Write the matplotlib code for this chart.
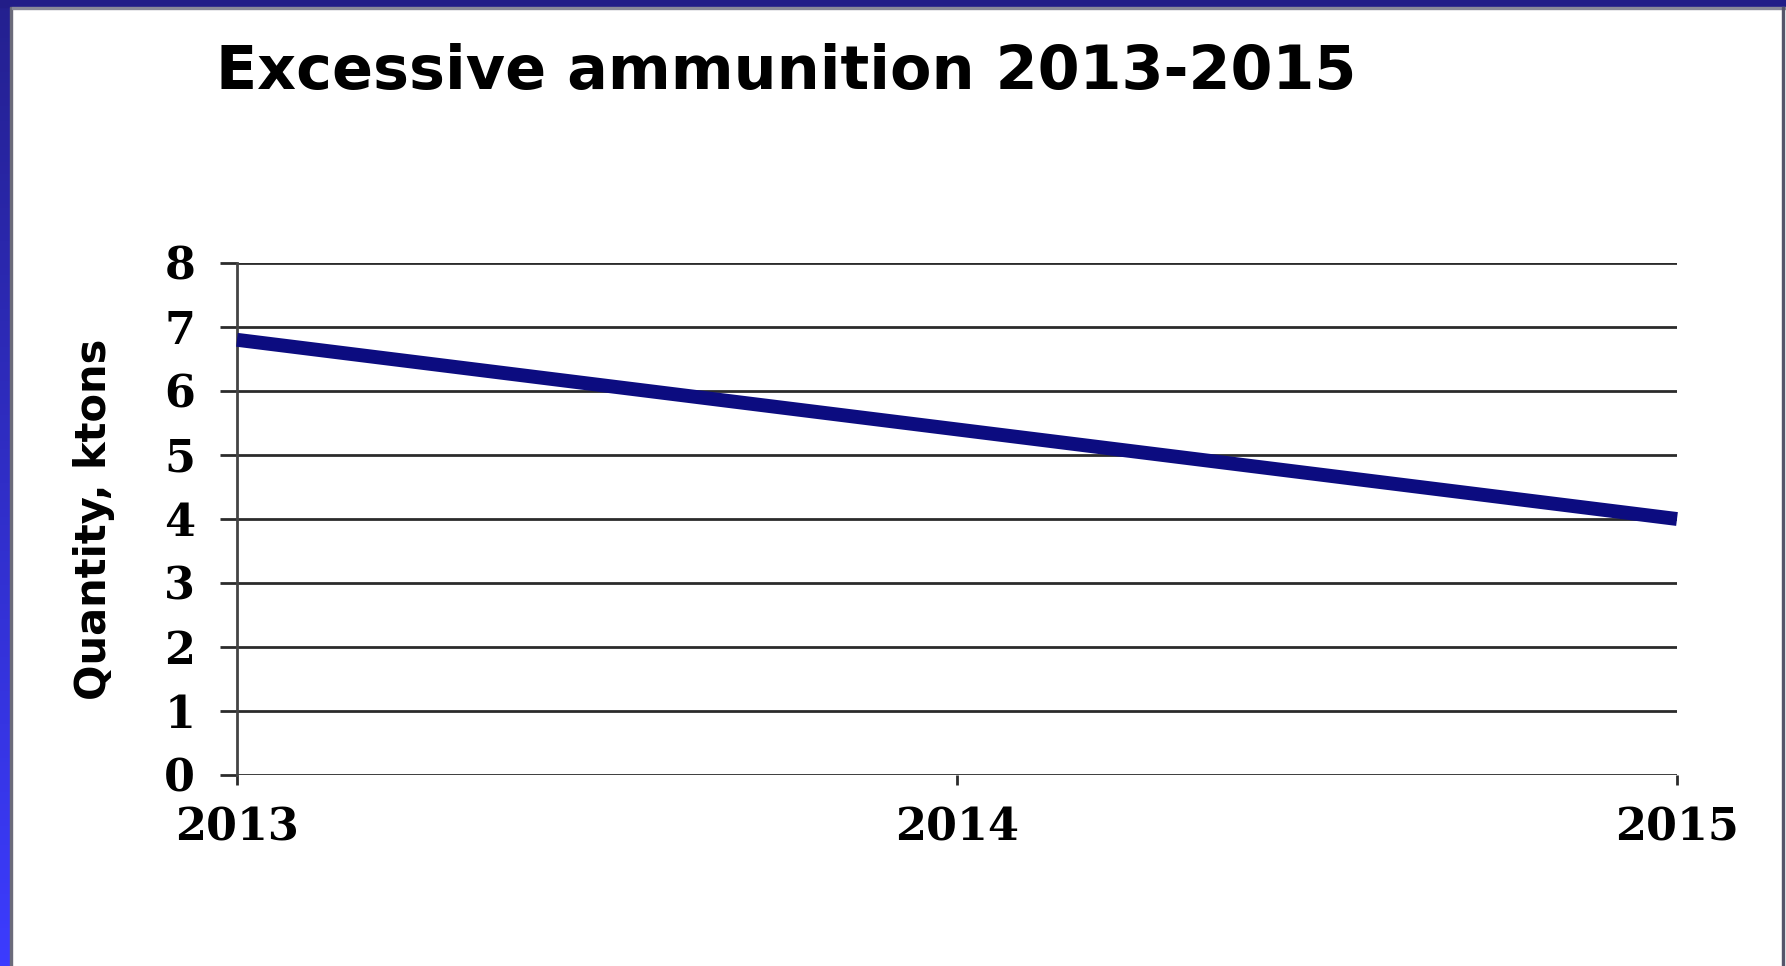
import numpy as np
import matplotlib
matplotlib.use("Agg")
import matplotlib.pyplot as plt
from matplotlib.patches import Rectangle

# data
years = [2013, 2014, 2015]
quantity = [6.8, 5.4, 4.0]
year_labels = ["2013", "2014", "2015"]
y_ticks = [0, 1, 2, 3, 4, 5, 6, 7, 8]

W, H = 1786, 966
fig = plt.figure(figsize=(W / 100, H / 100), dpi=100)
fig.patch.set_facecolor("white")

# frame: blue gradient bar on the left, navy bar on top, gray line right
grad = fig.add_axes([0, 0, 10 / W, 1])
grad.imshow(np.linspace(0, 1, 256).reshape(-1, 1), aspect="auto",
            cmap=matplotlib.colors.LinearSegmentedColormap.from_list(
                "bar", ["#24208f", "#3c3cff"]))
grad.axis("off")
fig.patches.append(Rectangle((0, 1 - 7 / H), 1, 7 / H, transform=fig.transFigure,
                             color="#221d88", zorder=5))
fig.patches.append(Rectangle((10 / W, 0), 2 / W, 1 - 7 / H, transform=fig.transFigure,
                             color="#6b6b7a", zorder=5))
fig.patches.append(Rectangle((12 / W, 1 - 9 / H), 1, 2 / H, transform=fig.transFigure,
                             color="#8a8a99", zorder=5))
fig.patches.append(Rectangle((1 - 4 / W, 0), 2 / W, 1 - 7 / H, transform=fig.transFigure,
                             color="#55556a", zorder=5))

ax = fig.add_axes([237 / W, (H - 775) / H, 1440 / W, 512 / H])
ax.plot(years, quantity, color="#0c0c80", linewidth=10,
        solid_capstyle="butt", clip_on=False, zorder=3)

ax.set_xlim(2013, 2015)
ax.set_ylim(0, 8)
ax.set_xticks(years)
ax.set_xticklabels(year_labels)
ax.set_yticks(y_ticks)

ax.grid(axis="y", color="#2b2b2b", linewidth=2)
ax.set_axisbelow(True)
for s in ["top", "right", "bottom"]:
    ax.spines[s].set_visible(False)
ax.spines["left"].set_color("#444444")
ax.spines["left"].set_linewidth(2)

ax.tick_params(axis="y", length=12, width=2, color="#2b2b2b", pad=18)
ax.tick_params(axis="x", length=7, width=2, color="#2b2b2b", pad=16)
for lab in ax.get_xticklabels() + ax.get_yticklabels():
    lab.set_fontfamily("DejaVu Serif")
    lab.set_fontweight("bold")
    lab.set_fontsize(32)

ax.set_ylabel("Quantity, ktons", fontsize=30, fontweight="heavy",
              family="DejaVu Sans")
ax.yaxis.set_label_coords(-0.085, 0.5)

fig.text(216 / W, 1 - 89 / H, "Excessive ammunition 2013-2015",
         fontsize=43.5, fontweight="bold", family="DejaVu Sans", va="baseline")

fig.savefig("out.png", dpi=100)
